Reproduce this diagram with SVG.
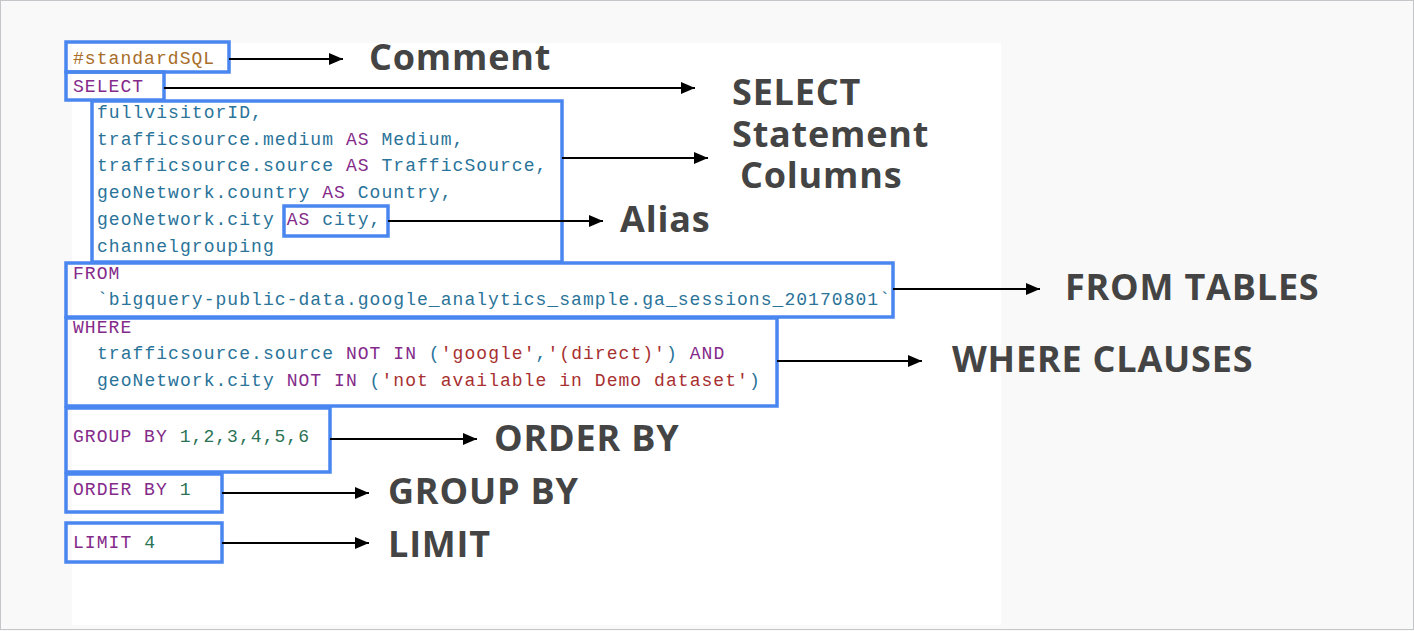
<svg xmlns="http://www.w3.org/2000/svg" width="1414" height="631" viewBox="0 0 1414 631">
<defs>
<marker id="ah" markerWidth="14" markerHeight="12" refX="14" refY="6" orient="auto" markerUnits="userSpaceOnUse">
<path d="M0,0 L14,6 L0,12 Z" fill="#000"/>
</marker>
<style>
.box{fill:none;stroke:#4a86f0;stroke-width:3.5}
.code{font-family:"Liberation Mono","DejaVu Sans Mono",monospace;font-size:18px;letter-spacing:1.05px}
.kw{fill:#842a8a}
.id{fill:#2a7399}
.cm{fill:#a86d28}
.st{fill:#a83030}
.nm{fill:#2a7354}
.lbl{font-family:"Open Sans","Noto Sans",sans-serif;font-weight:700;font-size:36px;letter-spacing:0.8px;fill:#444}
.con line{stroke:#000;stroke-width:2;marker-end:url(#ah)}
</style>
</defs>
<rect x="0" y="0" width="1414" height="631" fill="#f9f9f9"/>
<rect x="0.5" y="0.5" width="1413" height="629" fill="none" stroke="#c4c6ca" stroke-width="1"/>
<rect x="72" y="43" width="929" height="582" fill="#ffffff"/>

<g id="n-comment">
<rect class="box" x="66" y="42" width="163" height="30"/>
<text class="code cm" x="73" y="64">#standardSQL</text>
</g>
<g id="n-select">
<rect class="box" x="66" y="72" width="98" height="28"/>
<text class="code kw" x="73" y="92">SELECT</text>
</g>
<g id="n-columns">
<rect class="box" x="92" y="101" width="470" height="161"/>
<text class="code" x="97" y="118"><tspan class="id">fullvisitorID,</tspan></text>
<text class="code" x="97" y="145"><tspan class="id">trafficsource.medium </tspan><tspan class="kw">AS</tspan><tspan class="id"> Medium,</tspan></text>
<text class="code" x="97" y="171"><tspan class="id">trafficsource.source </tspan><tspan class="kw">AS</tspan><tspan class="id"> TrafficSource,</tspan></text>
<text class="code" x="97" y="198"><tspan class="id">geoNetwork.country </tspan><tspan class="kw">AS</tspan><tspan class="id"> Country,</tspan></text>
<text class="code" x="97" y="225"><tspan class="id">geoNetwork.city </tspan><tspan class="kw">AS</tspan><tspan class="id"> city,</tspan></text>
<text class="code" x="97" y="252"><tspan class="id">channelgrouping</tspan></text>
</g>
<g id="n-alias">
<rect class="box" x="284" y="206" width="104" height="30"/>
</g>
<g id="n-from">
<rect class="box" x="66" y="263" width="827" height="54"/>
<text class="code kw" x="73" y="279">FROM</text>
<text class="code id" x="97" y="305">`bigquery-public-data.google_analytics_sample.ga_sessions_20170801`</text>
</g>
<g id="n-where">
<rect class="box" x="66" y="318" width="711" height="88"/>
<text class="code kw" x="73" y="333">WHERE</text>
<text class="code" x="97" y="359"><tspan class="id">trafficsource.source </tspan><tspan class="kw">NOT IN</tspan><tspan class="id"> (</tspan><tspan class="st">'google'</tspan><tspan class="id">,</tspan><tspan class="st">'(direct)'</tspan><tspan class="id">) </tspan><tspan class="kw">AND</tspan></text>
<text class="code" x="97" y="386"><tspan class="id">geoNetwork.city </tspan><tspan class="kw">NOT IN</tspan><tspan class="id"> (</tspan><tspan class="st">'not available in Demo dataset'</tspan><tspan class="id">)</tspan></text>
</g>
<g id="n-groupby">
<rect class="box" x="66" y="408" width="264" height="64"/>
<text class="code" x="73" y="442"><tspan class="kw">GROUP BY </tspan><tspan class="nm">1,2,3,4,5,6</tspan></text>
</g>
<g id="n-orderby">
<rect class="box" x="66" y="474" width="156" height="38"/>
<text class="code" x="73" y="495"><tspan class="kw">ORDER BY </tspan><tspan class="nm">1</tspan></text>
</g>
<g id="n-limit">
<rect class="box" x="66" y="523" width="156" height="39"/>
<text class="code" x="73" y="548"><tspan class="kw">LIMIT </tspan><tspan class="nm">4</tspan></text>
</g>

<g id="connectors" class="con">
<line x1="229" y1="59" x2="343" y2="59"/>
<line x1="164" y1="88" x2="695" y2="88"/>
<line x1="562" y1="158" x2="708" y2="158"/>
<line x1="388" y1="221" x2="603" y2="221"/>
<line x1="893" y1="289" x2="1040" y2="289"/>
<line x1="777" y1="361" x2="922" y2="361"/>
<line x1="330" y1="439" x2="477" y2="439"/>
<line x1="222" y1="493" x2="369" y2="493"/>
<line x1="222" y1="543" x2="369" y2="543"/>
</g>

<g id="labels">
<text class="lbl" x="369" y="70">Comment</text>
<text class="lbl" x="732" y="105">SELECT</text>
<text class="lbl" x="732" y="147">Statement</text>
<text class="lbl" x="740" y="188">Columns</text>
<text class="lbl" x="620" y="232">Alias</text>
<text class="lbl" x="1065" y="300">FROM TABLES</text>
<text class="lbl" x="952" y="372">WHERE CLAUSES</text>
<text class="lbl" x="494" y="451">ORDER BY</text>
<text class="lbl" x="388" y="504">GROUP BY</text>
<text class="lbl" x="388" y="557">LIMIT</text>
</g>
</svg>
